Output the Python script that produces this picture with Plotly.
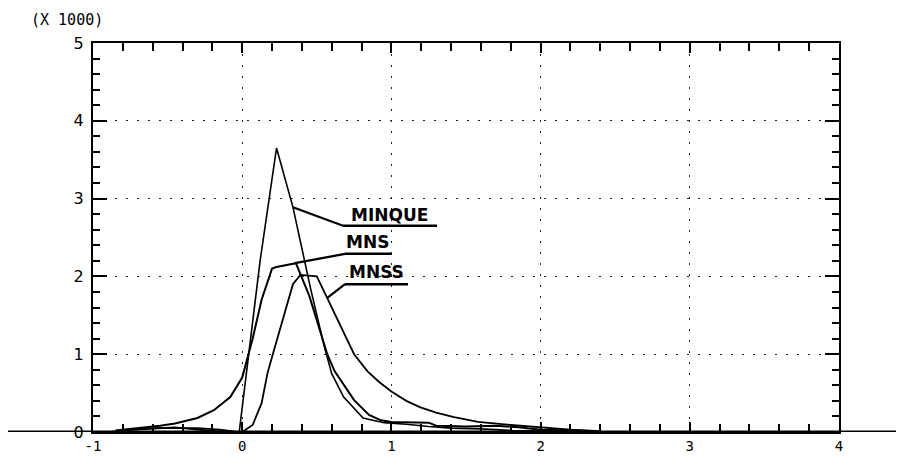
import plotly.graph_objects as go

# values in thousands (axis is labelled "(X 1000)")
minque_x = [-0.9, -0.75, -0.6, -0.45, -0.3, -0.15, -0.05, -0.02, 0.05, 0.12, 0.23, 0.34, 0.46,
            0.55, 0.6, 0.68, 0.81, 0.95, 1.1, 1.25, 1.4, 1.6, 1.8, 2.1, 2.4]
minque_y = [0.0, 0.03, 0.05, 0.05, 0.05, 0.03, 0.01, 0.0, 1.1, 2.2, 3.65, 2.89, 1.83,
            1.1, 0.75, 0.45, 0.18, 0.12, 0.1, 0.07, 0.05, 0.04, 0.02, 0.01, 0.0]

mns_x = [-0.85, -0.7, -0.55, -0.45, -0.37, -0.3, -0.19, -0.08, 0.0, 0.07, 0.13, 0.2, 0.23,
         0.3, 0.36, 0.45, 0.52, 0.57, 0.62, 0.75, 0.85, 0.93, 1.0, 1.25, 1.3, 1.5, 1.7,
         1.85, 2.0, 2.4]
mns_y = [0.02, 0.05, 0.08, 0.11, 0.15, 0.18, 0.28, 0.45, 0.7, 1.2, 1.7, 2.1, 2.12,
         2.15, 2.17, 1.75, 1.3, 1.0, 0.78, 0.41, 0.22, 0.15, 0.13, 0.12, 0.08, 0.07, 0.08,
         0.06, 0.03, 0.01]

mnss_x = [-0.8, -0.6, -0.45, -0.3, -0.1, 0.0, 0.03, 0.07, 0.13, 0.17, 0.21, 0.28, 0.34,
          0.39, 0.5, 0.57, 0.66, 0.75, 0.84, 0.92, 1.0, 1.1, 1.19, 1.3, 1.42, 1.58, 1.8,
          2.0, 2.2, 2.4]
mnss_y = [0.02, 0.04, 0.06, 0.03, 0.0, 0.0, 0.04, 0.09, 0.37, 0.76, 1.03, 1.5, 1.9,
          2.02, 2.0, 1.72, 1.35, 1.0, 0.78, 0.64, 0.52, 0.4, 0.32, 0.25, 0.19, 0.13, 0.09,
          0.06, 0.03, 0.01]

series_names = ["MINQUE", "MNS", "MNSS"]
x_tick_vals = [-1, 0, 1, 2, 3, 4]
x_tick_text = ["-1", "0", "1", "2", "3", "4"]
y_tick_vals = [0, 1, 2, 3, 4, 5]
y_tick_text = ["0", "1", "2", "3", "4", "5"]

# label leader lines: (point on curve, elbow, end of underline, text centre)
label_point = [(0.34, 2.89), (0.354, 2.17), (0.568, 1.72)]
label_elbow = [(0.676, 2.65), (0.689, 2.29), (0.689, 1.90)]
label_end_x = [1.306, 1.004, 1.111]
label_text_pos = [(0.99, 2.79), (0.843, 2.44), (0.897, 2.06)]

fig = go.Figure()
for xs, ys, name, w in [(minque_x, minque_y, series_names[0], 1.6),
                        (mns_x, mns_y, series_names[1], 2.0),
                        (mnss_x, mnss_y, series_names[2], 1.8)]:
    fig.add_trace(go.Scatter(x=xs, y=ys, mode="lines", name=name,
                             line=dict(color="black", width=w), showlegend=False))

# page has an 8px body margin, so the figure is 896x451 and offset by 8px
L, R, T, B = 85, 65, 35, 27
W, H = 896, 451
pw, ph = W - L - R, H - T - B

for i, name in enumerate(series_names):
    (px, py), (ex, ey) = label_point[i], label_elbow[i]
    fig.add_shape(type="line", x0=px, y0=py, x1=ex, y1=ey, xref="x", yref="y",
                  line=dict(color="black", width=2.2))
    fig.add_shape(type="line", x0=ex, y0=ey, x1=label_end_x[i], y1=ey, xref="x", yref="y",
                  line=dict(color="black", width=2.5))
    tx, ty = label_text_pos[i]
    fig.add_annotation(x=tx, y=ty, xref="x", yref="y", text="<b>" + name + "</b>",
                       showarrow=False, xanchor="center", yanchor="middle",
                       font=dict(family="DejaVu Sans", size=17, color="black"))

# extended baseline
fig.add_shape(type="line", xref="paper", yref="y", x0=-L / pw, x1=1 + R / pw, y0=0, y1=0,
              line=dict(color="black", width=3))

fig.add_annotation(xref="paper", yref="paper", x=(59 - L) / pw, y=1 + (T - 12) / ph,
                   xanchor="center", yanchor="middle",
                   text="(X 1000)", showarrow=False,
                   font=dict(family="DejaVu Sans Mono", size=15, color="black"))

grid_dash = "2px,9px"
fig.update_layout(
    width=W, height=H,
    margin=dict(l=L, r=R, t=T, b=B, autoexpand=False),
    paper_bgcolor="white", plot_bgcolor="white",
    xaxis=dict(range=[-1, 4], tickvals=x_tick_vals, ticktext=x_tick_text, automargin=False,
               showline=True, linecolor="black", linewidth=2, mirror="ticks",
               ticks="inside", ticklen=10, tickwidth=1.5, tickcolor="black",
               showgrid=True, gridcolor="#222", griddash=grid_dash, gridwidth=1.2,
               zeroline=False,
               minor=dict(ticks="inside", dtick=0.2, tick0=0, ticklen=8, tickwidth=1.5,
                          tickcolor="black", showgrid=False),
               tickfont=dict(family="DejaVu Sans Mono", size=14, color="black")),
    yaxis=dict(range=[0, 5], tickvals=y_tick_vals, ticktext=y_tick_text, automargin=False,
               showline=True, linecolor="black", linewidth=2, mirror="ticks",
               ticks="inside", ticklen=14, tickwidth=2, tickcolor="black",
               showgrid=True, gridcolor="#222", griddash=grid_dash, gridwidth=1.2,
               zeroline=False, ticklabelstandoff=4,
               minor=dict(ticks="inside", dtick=0.2, tick0=0, ticklen=7, tickwidth=1.5,
                          tickcolor="black", showgrid=False),
               tickfont=dict(family="DejaVu Sans", size=16, color="black")),
)

fig.write_html("out.html")
